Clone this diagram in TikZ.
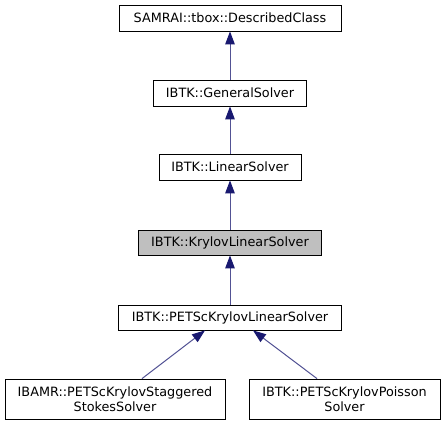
\documentclass[tikz,border=0pt]{standalone}
\usepackage{fontspec}
\setmainfont{DejaVu Sans}
\usetikzlibrary{arrows.meta}
\definecolor{edgeblue}{RGB}{25,25,112}
\definecolor{boxgray}{RGB}{191,191,191}
\begin{document}
\begin{tikzpicture}[x=1pt,y=-1pt,
  cls/.style={draw=black,line width=0.8pt,fill=white,inner sep=0pt,align=center,
    font=\fontsize{12.8}{15}\selectfont},
  inh/.style={draw=edgeblue!75!white,line width=1pt,-{Triangle[length=13pt,width=9.5pt,color=edgeblue,fill=edgeblue]}}]
\useasboundingbox (0,0) rectangle (445,425);
\fill[white] (0,0) rectangle (445,425);
\node[cls,minimum width=222pt,minimum height=26pt] (n1) at (230,18) {SAMRAI::tbox::DescribedClass};
\node[cls,minimum width=153pt,minimum height=26pt] (n2) at (230,93) {IBTK::GeneralSolver};
\node[cls,minimum width=142pt,minimum height=26pt] (n3) at (230,167) {IBTK::LinearSolver};
\node[cls,fill=boxgray,minimum width=183pt,minimum height=25pt] (n4) at (230,242.5) {IBTK::KrylovLinearSolver};
\node[cls,minimum width=223pt,minimum height=25pt] (n5) at (230,317.5) {IBTK::PETScKrylovLinearSolver};
\node[cls,minimum width=220pt,minimum height=40pt] (n6) at (115,399) {IBAMR::PETScKrylovStaggered\\StokesSolver};
\node[cls,minimum width=191pt,minimum height=40pt] (n7) at (344.5,399) {IBTK::PETScKrylovPoisson\\Solver};
\draw[inh] (n2.north) -- (n1.south);
\draw[inh] (n3.north) -- (n2.south);
\draw[inh] (n4.north) -- (n3.south);
\draw[inh] (n5.north) -- (n4.south);
\draw[inh] ([xshift=27pt]n6.north) -- ([xshift=-25pt]n5.south);
\draw[inh] ([xshift=-27.5pt]n7.north) -- ([xshift=23pt]n5.south);
\end{tikzpicture}
\end{document}
